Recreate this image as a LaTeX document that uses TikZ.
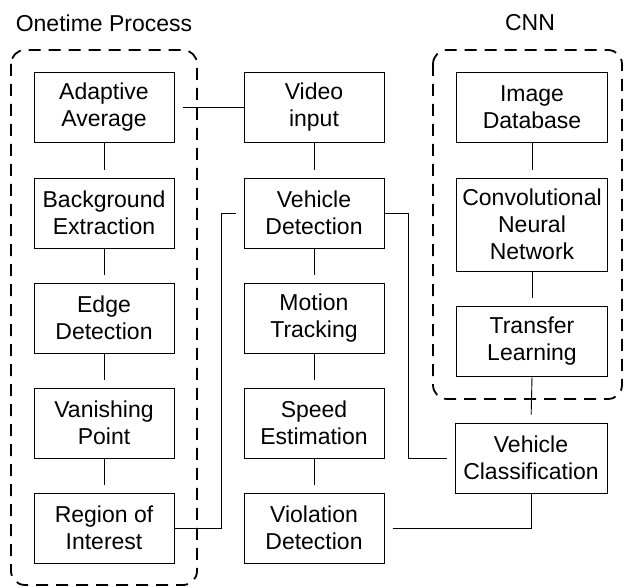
\documentclass[tikz,border=0pt]{standalone}
\usepackage{fontspec}
\setmainfont{Liberation Sans}
\begin{document}
\begin{tikzpicture}[x=1pt,y=-1pt,
  box/.style={draw, line width=0.9pt, minimum width=140pt, minimum height=70pt, align=center, inner sep=0pt, font=\fontsize{23}{27}\selectfont},
  conn/.style={line width=0.9pt},
  group/.style={draw, line width=1.8pt, dash pattern=on 12pt off 8pt, rounded corners=14pt},
  title/.style={font=\fontsize{23}{27}\selectfont}]
\useasboundingbox (0,0) rectangle (626,588);
% groups
\draw[group] (11,50) rectangle (197,585);
\draw[group] (433,50) rectangle (622,399);
\node[title] (t1) at (104,23) {Onetime Process};
\node[title] (t2) at (530,23) {CNN};
% left column
\node[box] (ada) at (104,107) {Adaptive\\Average};
\node[box] (bg) at (104,213) {Background\\Extraction};
\node[box] (edge) at (104,318) {Edge\\Detection};
\node[box] (van) at (104,423) {Vanishing\\Point};
\node[box] (roi) at (104,528) {Region of\\Interest};
% middle column
\node[box] (vid) at (314,107) {Video\\input};
\node[box] (vd) at (314,213) {Vehicle\\Detection};
\node[box] (mt) at (314,318) {Motion\\Tracking};
\node[box] (se) at (314,423) {Speed\\Estimation};
\node[box] (vio) at (314,528) {Violation\\Detection};
% right column
\node[box, minimum width=151pt] (idb) at (532,107) {Image\\Database};
\node[box, minimum width=151pt, minimum height=93pt] (cnn) at (532,224.5) {Convolutional\\Neural\\Network};
\node[box, minimum width=151pt] (tl) at (532,341) {Transfer\\Learning};
\node[box, minimum width=152pt] (vc) at (531,458) {Vehicle\\Classification};
% connectors
\coordinate (c1) at (221,0);
\coordinate (c2) at (408,0);
\draw[conn, shorten >=9pt] (vid.west) -- (ada.east);
\draw[conn, shorten >=8pt] (ada.south) -- (bg.north);
\draw[conn, shorten >=8pt] (bg.south) -- (edge.north);
\draw[conn, shorten >=8pt] (edge.south) -- (van.north);
\draw[conn, shorten >=8pt] (van.south) -- (roi.north);
\draw[conn, shorten >=8pt] (vid.south) -- (vd.north);
\draw[conn, shorten >=8pt] (vd.south) -- (mt.north);
\draw[conn, shorten >=8pt] (mt.south) -- (se.north);
\draw[conn, shorten >=8pt] (se.south) -- (vio.north);
\draw[conn, shorten >=8pt] (idb.south) -- (cnn.north);
\draw[conn, shorten >=8pt] (cnn.south) -- (tl.north);
\draw[conn, shorten >=8pt] (tl.south) -- (vc.north);
\draw[conn, shorten >=8pt] (roi.east) -| (c1 |- vd.west) -- (vd.west);
\draw[conn, shorten >=8pt] (vd.east) -| (c2 |- vc.west) -- (vc.west);
\draw[conn, shorten <=9pt] (vio.east) -| (vc.south);
\end{tikzpicture}
\end{document}
